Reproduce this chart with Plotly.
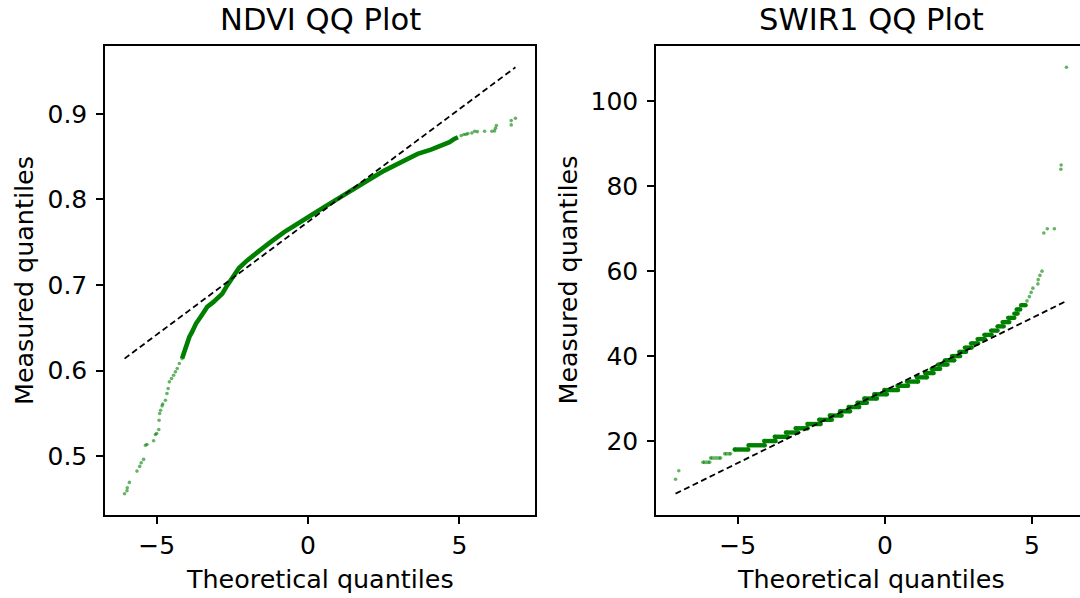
import plotly.graph_objects as go

# ---------------- NDVI: theoretical vs measured quantiles ----------------
# sparse tail points
ndvi_tail_theoretical = [-6.06, -5.98, -5.97, -5.90, -5.65, -5.56, -5.51, -5.43, -5.37, -5.32,
                         -5.10, -5.04, -5.00, -4.93, -4.92, -4.90, -4.87, -4.82, -4.80, -4.71,
                         -4.66, -4.62, -4.58, -4.51, -4.44, -4.38, -4.32, -4.25, -4.16,
                         5.06, 5.15, 5.22, 5.28, 5.41, 5.50, 5.59, 5.83, 6.07, 6.16,
                         6.19, 6.22, 6.71, 6.71, 6.85]
ndvi_tail_measured = [0.4561, 0.4596, 0.4630, 0.4693, 0.4825, 0.4880, 0.4923, 0.4962, 0.5128, 0.5136,
                      0.5180, 0.5253, 0.5265, 0.5312, 0.5420, 0.5498, 0.5537, 0.5588, 0.5610, 0.5654,
                      0.5732, 0.5790, 0.5868, 0.5907, 0.5946, 0.5985, 0.6024, 0.6082, 0.6140,
                      0.8747, 0.8759, 0.8763, 0.8770, 0.8778, 0.8798, 0.8793, 0.8798, 0.8798, 0.8802,
                      0.8833, 0.8864, 0.8872, 0.8922, 0.8950]
# densely packed body of the distribution
ndvi_body_theoretical = [-4.16, -4.05, -3.99, -3.92, -3.83, -3.70, -3.55, -3.33, -3.13, -3.00,
                         -2.83, -2.67, -2.50, -2.28, -2.01, -1.68, -1.24, -0.79, -0.35, 0.09,
                         0.53, 0.97, 1.41, 1.69, 1.97, 2.52, 3.07, 3.62, 4.06, 4.39,
                         4.67, 4.83, 4.95]
ndvi_body_measured = [0.6140, 0.6277, 0.6335, 0.6393, 0.6452, 0.6550, 0.6627, 0.6744, 0.6800, 0.6840,
                      0.6900, 0.6996, 0.7082, 0.7199, 0.7288, 0.7386, 0.7502, 0.7619, 0.7724, 0.7813,
                      0.7911, 0.8008, 0.8110, 0.8175, 0.8222, 0.8338, 0.8436, 0.8533, 0.8583, 0.8630,
                      0.8669, 0.8708, 0.8728]
# reference line
ndvi_line_theoretical = [-6.06, 6.85]
ndvi_line_measured = [0.614, 0.9545]

# ---------------- SWIR1: integer-valued measurements ----------------
# thinly populated low values
swir_sparse_levels = [15, 16, 17]
swir_sparse_start = [-6.18, -5.92, -5.44]
swir_sparse_end = [-5.95, -5.58, -5.24]
# well populated values
swir_levels = [18, 19, 20, 21, 22, 23, 24, 25, 26, 27, 28, 29, 30, 31, 32,
               33, 34, 35, 36, 37, 38, 39, 40, 41, 42, 43, 44, 45, 46, 47, 48, 49, 50, 51, 52]
swir_level_start = [-5.10, -4.63, -4.10, -3.74, -3.36, -3.03, -2.63,
                    -2.23, -1.87, -1.52, -1.23, -0.93, -0.70, -0.36, -0.02, 0.43, 0.75,
                    1.09, 1.37, 1.59, 1.81, 2.04, 2.28, 2.53, 2.72, 2.93, 3.15,
                    3.38, 3.61, 3.83, 4.00, 4.19, 4.40, 4.48, 4.63]
swir_level_end = [-4.64, -4.08, -3.71, -3.30, -2.95, -2.62, -2.18,
                  -1.80, -1.47, -1.18, -0.87, -0.61, -0.27, 0.07, 0.45, 0.79, 1.13,
                  1.43, 1.66, 1.88, 2.13, 2.36, 2.56, 2.76, 2.95, 3.17, 3.40,
                  3.63, 3.83, 4.04, 4.23, 4.40, 4.51, 4.60, 4.78]
# isolated points in the tails
swir_point_theoretical = [-7.11, -7.00, 4.83, 4.91, 4.97, 5.03, 5.20, 5.21, 5.27, 5.34,
                          5.40, 5.52, 5.76, 5.98, 5.99, 6.17]
swir_point_measured = [11, 13, 53, 54, 55, 56, 57, 58, 59, 60,
                       69, 70, 70, 84, 85, 108]
# reference line
swir_line_theoretical = [-7.11, 6.12]
swir_line_measured = [7.6, 52.8]

# ---------------- styling ----------------
FONT = "DejaVu Sans"
GREEN = "rgb(0,128,0)"
GREEN_SOFT = "rgba(0,128,0,0.6)"
W, H = 1080, 598

# panel frames in pixels
LEFT_PANEL = (105, 535)
RIGHT_PANEL = (656, 1086)
TOP_PX, BOTTOM_PX = 46, 515

TICK_SIZE, LABEL_SIZE, TITLE_SIZE = 25, 25.4, 30.6


def padded(values, frac=0.05):
    lo, hi = min(values), max(values)
    pad = (hi - lo) * frac
    return [lo - pad, hi + pad]


def runs(levels, starts, ends):
    xs, ys = [], []
    for lvl, s, e in zip(levels, starts, ends):
        xs += [s, e, None]
        ys += [lvl, lvl, None]
    return xs, ys


fig = go.Figure()

# NDVI panel
fig.add_trace(go.Scatter(x=ndvi_body_theoretical, y=ndvi_body_measured, mode="lines",
                         line=dict(color=GREEN, width=4.6), xaxis="x", yaxis="y",
                         showlegend=False, hoverinfo="skip"))
fig.add_trace(go.Scatter(x=ndvi_tail_theoretical, y=ndvi_tail_measured, mode="markers",
                         marker=dict(color=GREEN_SOFT, size=3.6, line=dict(width=0)),
                         xaxis="x", yaxis="y", showlegend=False))
fig.add_trace(go.Scatter(x=ndvi_line_theoretical, y=ndvi_line_measured, mode="lines",
                         line=dict(color="black", width=1.8, dash="6px,3.5px"),
                         xaxis="x", yaxis="y", showlegend=False))

# SWIR1 panel: one horizontal run per integer value
sx, sy = runs(swir_sparse_levels, swir_sparse_start, swir_sparse_end)
fig.add_trace(go.Scatter(x=sx, y=sy, mode="lines+markers",
                         line=dict(color=GREEN_SOFT, width=3.6),
                         marker=dict(color=GREEN_SOFT, size=3.6, line=dict(width=0)),
                         xaxis="x2", yaxis="y2", showlegend=False, hoverinfo="skip"))
dx, dy = runs(swir_levels, swir_level_start, swir_level_end)
fig.add_trace(go.Scatter(x=dx, y=dy, mode="lines+markers",
                         line=dict(color=GREEN, width=4.4),
                         marker=dict(color=GREEN, size=4.4, line=dict(width=0)),
                         xaxis="x2", yaxis="y2", showlegend=False, hoverinfo="skip"))
fig.add_trace(go.Scatter(x=swir_point_theoretical, y=swir_point_measured, mode="markers",
                         marker=dict(color=GREEN_SOFT, size=3.6, line=dict(width=0)),
                         xaxis="x2", yaxis="y2", showlegend=False))
fig.add_trace(go.Scatter(x=swir_line_theoretical, y=swir_line_measured, mode="lines",
                         line=dict(color="black", width=1.8, dash="6px,3.5px"),
                         xaxis="x2", yaxis="y2", showlegend=False))

# axis ranges with 5% padding around the data
ndvi_xr = padded(ndvi_tail_theoretical + ndvi_line_theoretical)
ndvi_yr = padded(ndvi_tail_measured + ndvi_line_measured)
swir_xr_full = padded(swir_point_theoretical + swir_line_theoretical)
swir_yr = padded(swir_point_measured + swir_line_measured)

# the right panel runs past the canvas edge: keep its scale, clip its range
visible = (W - RIGHT_PANEL[0]) / (RIGHT_PANEL[1] - RIGHT_PANEL[0])
swir_xr = [swir_xr_full[0], swir_xr_full[0] + (swir_xr_full[1] - swir_xr_full[0]) * visible]

ydom = [1 - BOTTOM_PX / H, 1 - TOP_PX / H]
tickfont = dict(family=FONT, size=TICK_SIZE, color="black")
common = dict(showgrid=False, zeroline=False, showline=True, linecolor="black", linewidth=1.5,
              ticks="outside", ticklen=7, tickwidth=1.5, tickcolor="black", tickfont=tickfont)

fig.update_layout(
    width=W, height=H,
    margin=dict(l=0, r=0, t=0, b=0),
    paper_bgcolor="white", plot_bgcolor="white",
    xaxis=dict(domain=[LEFT_PANEL[0] / W, LEFT_PANEL[1] / W], range=ndvi_xr,
               tickvals=[-5, 0, 5], mirror=True, anchor="y", **common),
    yaxis=dict(domain=ydom, range=ndvi_yr, tickvals=[0.5, 0.6, 0.7, 0.8, 0.9],
               ticktext=["0.5", "0.6", "0.7", "0.8", "0.9"], mirror=True, anchor="x",
               ticklabelstandoff=4, **common),
    xaxis2=dict(domain=[RIGHT_PANEL[0] / W, 1.0], range=swir_xr,
                tickvals=[-5, 0, 5], mirror=True, anchor="y2", **common),
    yaxis2=dict(domain=ydom, range=swir_yr, tickvals=[20, 40, 60, 80, 100],
                mirror=False, anchor="x2", ticklabelstandoff=4, **common),
)

left_c = (LEFT_PANEL[0] + LEFT_PANEL[1]) / 2 / W
right_c = (RIGHT_PANEL[0] + RIGHT_PANEL[1]) / 2 / W
mid_y = 1 - (TOP_PX + BOTTOM_PX) / 2 / H

labels = [
    dict(text="NDVI QQ Plot", x=left_c, y=1 - 20 / H, size=TITLE_SIZE, angle=0),
    dict(text="SWIR1 QQ Plot", x=right_c, y=1 - 20 / H, size=TITLE_SIZE, angle=0),
    dict(text="Theoretical quantiles", x=left_c, y=1 - 578.5 / H, size=LABEL_SIZE, angle=0),
    dict(text="Theoretical quantiles", x=right_c, y=1 - 578.5 / H, size=LABEL_SIZE, angle=0),
    dict(text="Measured quantiles", x=23.5 / W, y=mid_y, size=LABEL_SIZE, angle=-90),
    dict(text="Measured quantiles", x=567 / W, y=mid_y, size=LABEL_SIZE, angle=-90),
]
for lab in labels:
    fig.add_annotation(text=lab["text"], x=lab["x"], y=lab["y"], xref="paper", yref="paper",
                       xanchor="center", yanchor="middle", showarrow=False, textangle=lab["angle"],
                       font=dict(family=FONT, size=lab["size"], color="black"))

fig.write_html("out.html")
